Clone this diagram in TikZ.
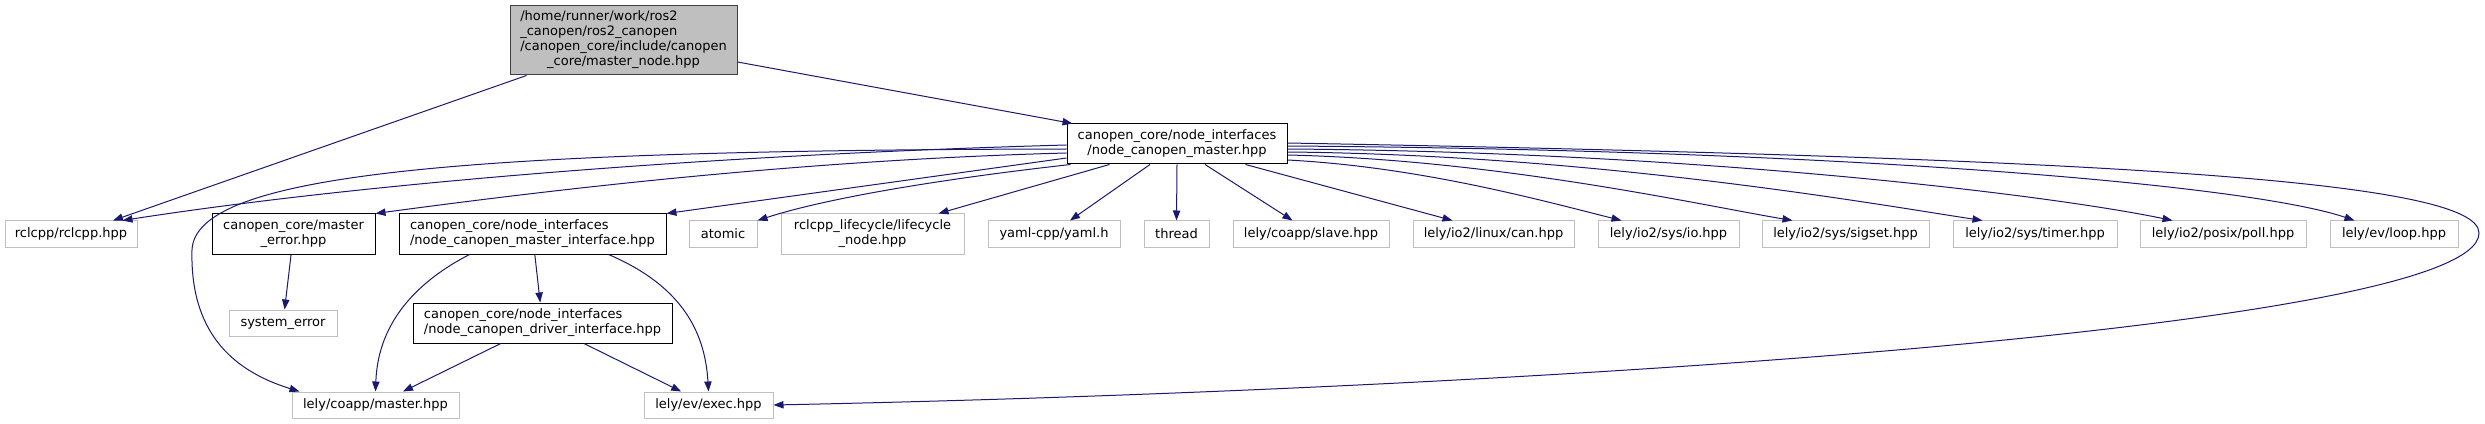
\documentclass[tikz,border=0pt]{standalone}
\usepackage{fontspec}
\setmainfont{DejaVu Sans}
\usepackage{xcolor}
\usepackage{tikz}
\usetikzlibrary{arrows.meta, calc}

\definecolor{blunotte}{HTML}{191970}
\definecolor{grigiobordo}{HTML}{BFBFBF}
\definecolor{grigioscuro}{HTML}{404040}

\tikzset{
  file/.style={rectangle, inner sep=0pt, line width=0.75pt, minimum height=19.5pt,
    font=\fontsize{9.75}{11.25}\selectfont, align=center},
  esterno/.style={file, draw=grigiobordo},
  interno/.style={file, draw=black, minimum height=30pt},
  radice/.style={file, draw=grigioscuro, fill=grigiobordo, minimum height=51.75pt},
  freccia/.style={blunotte, line width=0.75pt, -{Triangle[length=7.5pt, width=5.5pt]}},
}

\begin{document}
\begin{tikzpicture}[x=0.75pt, y=-0.75pt]
    \useasboundingbox (0,0) rectangle (2485,424);

    % File di partenza
    \node[radice, minimum width=170.25pt] (root) at (623.5,40.5)
      {\begin{tabular}{@{}l@{}}/home/runner/work/ros2\\\_canopen/ros2\_canopen\\/canopen\_core/include/canopen\\\multicolumn{1}{@{}c@{}}{\_core/master\_node.hpp}\end{tabular}};
    \node[interno, minimum width=165pt] (ncm) at (1177,144)
      {canopen\_core/node\_interfaces\\/node\_canopen\_master.hpp};

    % Prima fila
    \node[esterno, minimum width=99pt] (rclcpp) at (71,234) {rclcpp/rclcpp.hpp};
    \node[interno, minimum width=122.25pt] (merr) at (293.5,234) {canopen\_core/master\\\_error.hpp};
    \node[interno, minimum width=200.25pt, align=left] (mif) at (532.5,234)
      {canopen\_core/node\_interfaces\\/node\_canopen\_master\_interface.hpp};
    \node[esterno, minimum width=51pt] (atomic) at (723,234) {atomic};
    \node[esterno, minimum width=137.25pt, minimum height=30pt] (lifecycle) at (872.5,234)
      {rclcpp\_lifecycle/lifecycle\\\_node.hpp};
    \node[esterno, minimum width=99pt] (yaml) at (1054,234) {yaml-cpp/yaml.h};
    \node[esterno, minimum width=48.75pt] (thread) at (1176.5,234) {thread};
    \node[esterno, minimum width=117pt] (slave) at (1311,234) {lely/coapp/slave.hpp};
    \node[esterno, minimum width=120.75pt] (can) at (1493.5,234) {lely/io2/linux/can.hpp};
    \node[esterno, minimum width=105.75pt] (io) at (1668.5,234) {lely/io2/sys/io.hpp};
    \node[esterno, minimum width=125.25pt] (sigset) at (1845.5,234) {lely/io2/sys/sigset.hpp};
    \node[esterno, minimum width=123pt] (timer) at (2035,234) {lely/io2/sys/timer.hpp};
    \node[esterno, minimum width=124.5pt] (poll) at (2223,234) {lely/io2/posix/poll.hpp};
    \node[esterno, minimum width=96pt] (loop) at (2394,234) {lely/ev/loop.hpp};

    % Seconda e terza fila
    \node[esterno, minimum width=81pt] (syserr) at (283,323) {system\_error};
    \node[interno, minimum width=194.25pt, align=left] (drv) at (542.5,323)
      {canopen\_core/node\_interfaces\\/node\_canopen\_driver\_interface.hpp};
    \node[esterno, minimum width=125.25pt] (com) at (375.5,405) {lely/coapp/master.hpp};
    \node[esterno, minimum width=96.75pt] (exec) at (708.5,405) {lely/ev/exec.hpp};

    % Archi dalla radice
    \draw[freccia] ($(root.south west)+(17,0)$) -- ($(rclcpp.north)+(42,0)$);
    \draw[freccia] ($(root.east)+(0,21.5)$) -- ($(ncm.north west)+(6,0)$);

    % Archi verso sinistra
    \draw[freccia] ($(ncm.west)+(0,1)$) .. controls (700,155) and (350,185) .. ($(rclcpp.north east)+(-15,0)$);
    \draw[freccia] ($(ncm.west)+(0,5)$) .. controls (450,150) and (195,175) .. (192,250)
      .. controls (190,330) and (230,370) .. ($(com.north west)+(8,0)$);
    \draw[freccia] ($(ncm.west)+(0,9)$) .. controls (800,160) and (550,190) .. (merr.north east);
    \draw[freccia] ($(ncm.west)+(0,14)$) -- (mif.north east);
    \draw[freccia] ($(ncm.south west)+(4,0)$) .. controls (950,178) and (830,197) .. (atomic.north east);
    \draw[freccia] ($(ncm.south west)+(43,0)$) -- ($(lifecycle.north east)+(-26,0)$);

    % Archi verso il basso
    \draw[freccia] ($(ncm.south)+(-27,0)$) -- ($(yaml.north)+(16,0)$);
    \draw[freccia] (ncm.south) -- (thread.north);
    \draw[freccia] ($(ncm.south)+(28,0)$) -- ($(slave.north west)+(60,0)$);
    \draw[freccia] ($(ncm.south east)+(-42,0)$) -- ($(can.north west)+(40,0)$);

    % Archi verso destra
    \draw[freccia] ($(ncm.east)+(0,16)$) .. controls (1420,167) and (1540,200) .. ($(io.north west)+(24,0)$);
    \draw[freccia] ($(ncm.east)+(0,11)$) .. controls (1500,160) and (1700,205) .. ($(sigset.north west)+(31,0)$);
    \draw[freccia] ($(ncm.east)+(0,8)$) .. controls (1600,155) and (1880,205) .. ($(timer.north west)+(30,0)$);
    \draw[freccia] ($(ncm.east)+(0,5)$) .. controls (1700,152) and (2050,195) .. ($(poll.north west)+(33,0)$);
    \draw[freccia] ($(ncm.east)+(0,2)$) .. controls (1850,150) and (2250,185) .. ($(loop.north west)+(25,0)$);
    \draw[freccia] ($(ncm.east)+(0,-1)$) .. controls (2100,158) and (2479,180) .. (2479,233)
      .. controls (2479,330) and (1500,390) .. (exec.east);

    % Interfacce
    \draw[freccia] (merr) -- (syserr);
    \draw[freccia] (mif) -- (drv);
    \draw[freccia] ($(mif.south west)+(71,0)$) .. controls (420,280) and (378,320) .. (com.north);
    \draw[freccia] ($(mif.south east)+(-58,0)$) .. controls (680,285) and (705,330) .. (exec.north);
    \draw[freccia] (drv) -- (com);
    \draw[freccia] (drv) -- (exec);

\end{tikzpicture}
\end{document}
